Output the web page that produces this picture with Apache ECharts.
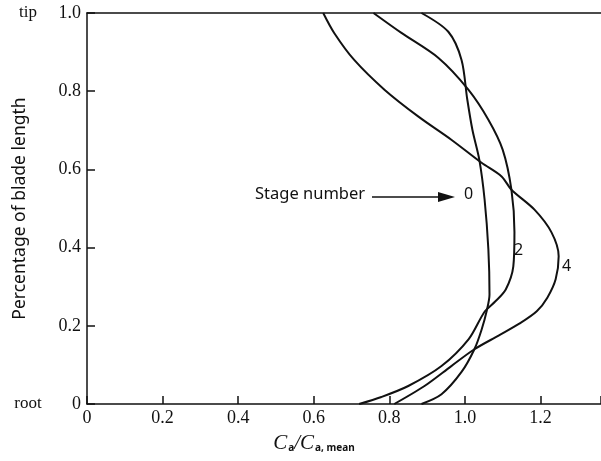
<!DOCTYPE html>
<html>
<head>
<meta charset="utf-8">
<script src="https://cdn.jsdelivr.net/npm/echarts@6/dist/echarts.min.js"></script>
<style>
  html, body { margin: 0; padding: 0; background: #fff; }
  #main { width: 601px; height: 461px; }
</style>
</head>
<body>
<div id="main"></div>
<script>
// tick values
const xTicks = [0, 0.2, 0.4, 0.6, 0.8, 1.0, 1.2]
const yTicks = [0, 0.2, 0.4, 0.6, 0.8, 1.0]
const stageNames = ['0', '2', '4']

// [Ca/Ca,mean, percentage of blade length]
const stage0 = [[0.885,1.0],[0.956,0.952],[0.991,0.88],[1.006,0.78],[1.02,0.70],[1.038,0.625],[1.052,0.523],[1.062,0.395],[1.065,0.28],[1.058,0.24],[1.044,0.19],[1.025,0.14],[0.991,0.082],[0.938,0.025],[0.885,0]]
const stage2 = [[0.758,1.0],[0.832,0.949],[0.93,0.885],[1.009,0.804],[1.062,0.727],[1.10,0.65],[1.123,0.548],[1.131,0.44],[1.128,0.352],[1.108,0.293],[1.08,0.262],[1.052,0.236],[1.01,0.166],[0.938,0.097],[0.85,0.046],[0.779,0.018],[0.72,0]]
const stage4 = [[0.625,1.0],[0.654,0.949],[0.707,0.88],[0.787,0.804],[0.877,0.735],[0.964,0.676],[1.044,0.617],[1.097,0.582],[1.123,0.548],[1.184,0.497],[1.229,0.439],[1.248,0.378],[1.24,0.319],[1.218,0.272],[1.19,0.237],[1.145,0.206],[1.089,0.175],[1.025,0.14],[0.964,0.097],[0.893,0.046],[0.813,0]]

const serif = '"Liberation Serif", "DejaVu Serif", serif'
const sans = '"Noto Sans", "DejaVu Sans", sans-serif'
const ink = '#111'

let chart = echarts.init(document.getElementById('main'), null, { renderer: 'canvas' })

function curve(name, data) {
  return {
    name: name,
    type: 'line',
    data: data,
    smooth: 0.3,
    showSymbol: false,
    lineStyle: { color: ink, width: 2 },
    silent: true
  }
}

function getOption() {
  return {
    backgroundColor: '#fff',
    animation: false,
    grid: { left: 87, right: 0, top: 13, bottom: 57, outerBoundsMode: 'none' },
    xAxis: [
      {
        type: 'value',
        min: 0,
        max: 1.36,
        interval: 0.2,
        position: 'bottom',
        splitLine: { show: false },
        axisLine: { lineStyle: { color: ink, width: 1.5 } },
        axisTick: { inside: true, length: 8, lineStyle: { color: ink, width: 1.5 } },
        axisLabel: {
          color: ink, fontFamily: serif, fontSize: 18, margin: 5,
          formatter: v => {
            let t = xTicks.find(k => Math.abs(k - v) < 1e-6)
            if (t === undefined) return ''
            return t === 0 ? '0' : t.toFixed(1)
          }
        },
        name: '{i|C}{s|a}{i|/C}{s|a, mean}',
        nameLocation: 'middle',
        nameGap: 27,
        nameMoveOverlap: false,
        nameTextStyle: {
          padding: [0, 60, 0, 0],
          rich: {
            i: { fontFamily: serif, fontStyle: 'italic', fontSize: 21, color: ink, lineHeight: 24 },
            s: { fontFamily: sans, fontWeight: 'bold', fontSize: 10, color: ink, lineHeight: 24, padding: [11, 0, 0, 1] }
          }
        }
      },
      {
        // top frame line
        type: 'value',
        min: 0,
        max: 1.36,
        position: 'top',
        splitLine: { show: false },
        axisLine: { show: true, lineStyle: { color: ink, width: 1.5 } },
        axisTick: { show: false },
        axisLabel: { show: false }
      }
    ],
    yAxis: {
      type: 'value',
      min: 0,
      max: 1,
      interval: 0.2,
      splitLine: { show: false },
      axisLine: { lineStyle: { color: ink, width: 1.5 } },
      axisTick: { inside: true, length: 8, lineStyle: { color: ink, width: 1.5 } },
      axisLabel: {
        margin: 6,
        formatter: v => {
          if (v === 0) return '{e|root}{v|0}'
          if (v === 1) return '{e|tip}{v|1.0}'
          return '{v|' + v.toFixed(1) + '}'
        },
        rich: {
          e: { fontFamily: serif, fontSize: 17, color: ink, width: 30, align: 'center' },
          v: { fontFamily: serif, fontSize: 18, color: ink, width: 38, align: 'right' }
        }
      },
      name: 'Percentage of blade length',
      nameLocation: 'middle',
      nameGap: 58,
      nameMoveOverlap: false,
      nameTextStyle: { fontFamily: sans, fontSize: 17.5, color: ink }
    },
    graphic: [
      { type: 'text', left: 255, top: 186, style: { text: 'Stage number', font: '16.5px ' + sans, fill: ink } },
      { type: 'line', shape: { x1: 372, y1: 197, x2: 442, y2: 197 }, style: { stroke: ink, lineWidth: 1.5 } },
      { type: 'polygon', shape: { points: [[438, 192], [455, 197], [438, 202]] }, style: { fill: ink } },
      { type: 'text', left: 464, top: 186, style: { text: stageNames[0], font: '16px ' + sans, fill: ink } },
      { type: 'text', left: 514, top: 242, style: { text: stageNames[1], font: '16px ' + sans, fill: ink } },
      { type: 'text', left: 562, top: 258, style: { text: stageNames[2], font: '16px ' + sans, fill: ink } }
    ],
    series: [
      curve('0', stage0),
      curve('2', stage2),
      curve('4', stage4)
    ]
  }
}

chart.setOption(getOption())
</script>
</body>
</html>
